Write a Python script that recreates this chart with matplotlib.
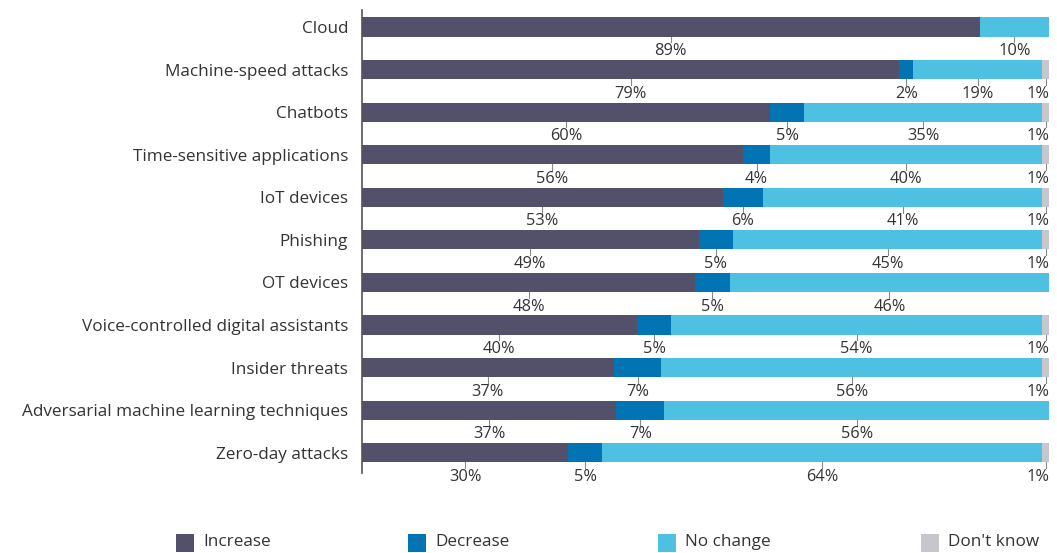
import matplotlib.pyplot as plt
from matplotlib.patches import Rectangle
import numpy as np

plt.rcParams['font.family'] = ['Open Sans', 'DejaVu Sans']

categories = ['Cloud', 'Machine-speed attacks', 'Chatbots', 'Time-sensitive applications',
              'IoT devices', 'Phishing', 'OT devices', 'Voice-controlled digital assistants',
              'Insider threats', 'Adversarial machine learning techniques', 'Zero-day attacks']
increase = [89, 79, 60, 56, 53, 49, 48, 40, 37, 37, 30]
decrease = [0, 2, 5, 4, 6, 5, 5, 5, 7, 7, 5]
no_change = [10, 19, 35, 40, 41, 45, 46, 54, 56, 56, 64]
dont_know = [0, 1, 1, 1, 1, 1, 0, 1, 1, 0, 1]

series = [('Increase', increase, '#52506a'),
          ('Decrease', decrease, '#0274b3'),
          ('No change', no_change, '#4ec0e2'),
          ("Don't know", dont_know, '#c6c6cc')]

fig = plt.figure(figsize=(10.57, 5.53), dpi=100)
ax = fig.add_axes([0.3425, 0.145, 0.65, 0.837])

totals = np.sum([s[1] for s in series], axis=0)
y = np.arange(len(categories))
left = np.zeros(len(categories))
txt = '#333333'
for name, vals, col in series:
    vals = np.array(vals, dtype=float)
    w = vals / totals * 100
    ax.barh(y, w, left=left, height=0.45, color=col, linewidth=0)
    for i, v in enumerate(vals):
        if v <= 0:
            continue
        cx = left[i] + w[i] / 2
        ax.plot([cx, cx], [y[i] + 0.225, y[i] + 0.36], color='#888888', lw=0.8)
        ha = 'center'
        tx = cx
        if cx > 98:
            ha = 'right'
            tx = 100
        ax.text(tx, y[i] + 0.38, f'{int(v)}%', ha=ha, va='top', fontsize=11.8, color=txt)
    left = left + w

ax.set_xlim(0, 100)
ax.set_ylim(10.47, -0.4)
ax.set_yticks(y)
ax.set_yticklabels(categories, fontsize=12.3, color=txt)
ax.tick_params(axis='y', length=0, pad=10)
ax.set_xticks([])
for s in ['top', 'right', 'bottom']:
    ax.spines[s].set_visible(False)
ax.spines['left'].set_color('#555555')
ax.spines['left'].set_linewidth(1.2)

# legend
leg_x = [176, 408, 658, 921]
for (name, vals, col), lx in zip(series, leg_x):
    fig.add_artist(Rectangle((lx / 1057, 1 - 552 / 553), 18 / 1057, 18 / 553,
                             transform=fig.transFigure, color=col, linewidth=0))
    fig.text((lx + 27) / 1057, 1 - 542 / 553, name, fontsize=12.3, color=txt,
             va='center', ha='left')

fig.savefig('out.png', dpi=100)
